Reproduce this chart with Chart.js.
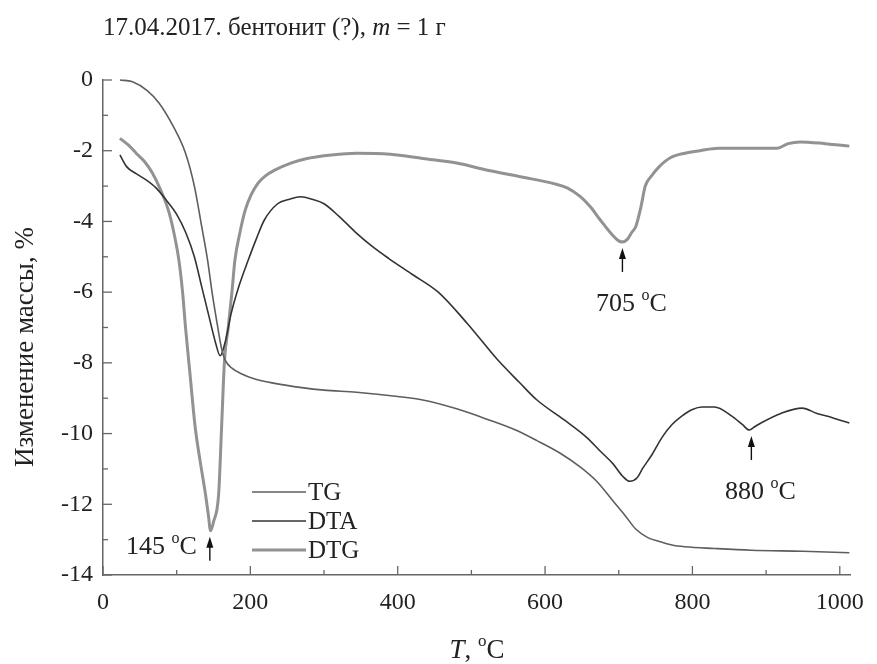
<!DOCTYPE html>
<html lang="ru">
<head>
<meta charset="utf-8">
<title>бентонит</title>
<script src="https://cdn.jsdelivr.net/npm/chart.js@4"></script>
<style>
  body { margin: 0; background: #fff; }
  #wrap { width: 877px; height: 664px; }
</style>
</head>
<body>
<div id="wrap"><canvas id="tgChart" width="877" height="664"></canvas></div>
<script>
// данные (T, °C -> значение)
const tgT    = [23, 40, 60, 76, 95, 112, 124, 134, 142, 148, 155, 161, 166, 175, 187, 205, 233, 270, 300, 344, 400, 434, 480, 522, 560, 589, 620, 648, 670, 692, 708, 723, 740, 755, 772, 790, 830, 880, 950, 1013];
const tgMass = [0.0, -0.05, -0.3, -0.65, -1.3, -2.07, -3.0, -4.15, -5.1, -6.0, -6.9, -7.6, -7.93, -8.15, -8.3, -8.45, -8.58, -8.7, -8.77, -8.83, -8.95, -9.05, -9.3, -9.6, -9.9, -10.2, -10.55, -10.95, -11.35, -11.9, -12.3, -12.7, -12.95, -13.05, -13.15, -13.2, -13.25, -13.3, -13.33, -13.37];

const dtaT   = [23, 32, 45, 59, 72, 86, 100, 112, 124, 134, 144, 153, 159, 166, 174, 185, 197, 208, 219, 237, 252, 268, 285, 300, 320, 344, 365, 388, 420, 455, 495, 535, 565, 589, 625, 656, 675, 692, 705, 715, 725, 732, 745, 759, 772, 786, 800, 813, 830, 853, 868, 877, 885, 893, 920, 949, 969, 990, 1013];
const dtaVal = [-2.12, -2.45, -2.65, -2.83, -3.05, -3.4, -3.8, -4.3, -5.0, -5.85, -6.7, -7.45, -7.8, -7.4, -6.6, -5.8, -5.1, -4.5, -3.96, -3.5, -3.38, -3.3, -3.38, -3.5, -3.85, -4.33, -4.7, -5.05, -5.5, -6.0, -6.9, -7.9, -8.55, -9.05, -9.6, -10.1, -10.5, -10.85, -11.2, -11.35, -11.25, -11.0, -10.6, -10.1, -9.75, -9.5, -9.32, -9.25, -9.25, -9.5, -9.75, -9.9, -9.8, -9.7, -9.43, -9.28, -9.43, -9.55, -9.7];

const dtgT   = [23, 35, 45, 56, 67, 78, 90, 97, 103, 108, 112, 118, 125, 132, 139, 143, 146, 150, 157, 161, 165, 170, 175, 179, 186, 193, 201, 210, 220, 233, 255, 277, 310, 344, 390, 434, 480, 522, 570, 612, 630, 648, 662, 675, 690, 700, 705, 712, 718, 723, 730, 736, 745, 755, 770, 790, 810, 835, 870, 915, 930, 946, 980, 1013];
const dtgVal = [-1.65, -1.85, -2.07, -2.3, -2.63, -3.1, -3.77, -4.4, -5.1, -6.0, -7.0, -8.3, -9.8, -10.8, -11.7, -12.3, -12.75, -12.5, -11.7, -9.8, -7.9, -7.0, -6.0, -5.1, -4.3, -3.68, -3.25, -2.93, -2.72, -2.55, -2.35, -2.22, -2.12, -2.07, -2.1, -2.22, -2.35, -2.55, -2.75, -2.93, -3.05, -3.3, -3.6, -3.96, -4.35, -4.55, -4.58, -4.5, -4.3, -4.15, -3.6, -3.0, -2.7, -2.45, -2.2, -2.07, -2.0, -1.93, -1.93, -1.93, -1.8, -1.75, -1.8, -1.87];

// пики, отмеченные стрелками
const peakT   = [145, 705, 880];
const peakVal = [-12.75, -4.58, -9.9];

const seriesNames = ['TG', 'DTA', 'DTG'];
const seriesColors = ['#5e5e5e', '#333333', '#929292'];
const seriesWidths = [1.6, 1.6, 3];

const SERIF = '"Liberation Serif", "DejaVu Serif", serif';

function toPoints(xs, ys) {
    return xs.map((x, i) => ({ x: x, y: ys[i] }));
}

// текст вида "145 °C" с надстрочным "o"
function drawDegText(ctx, num, x, y, align) {
    ctx.font = '26px ' + SERIF;
    const w1 = ctx.measureText(num + ' ').width;
    ctx.font = '16px ' + SERIF;
    const wo = ctx.measureText('o').width;
    ctx.font = '26px ' + SERIF;
    const wc = ctx.measureText('C').width;
    let sx = x;
    if (align === 'right') sx = x - (w1 + wo + wc);
    if (align === 'center') sx = x - (w1 + wo + wc) / 2;
    ctx.textAlign = 'left';
    ctx.textBaseline = 'alphabetic';
    ctx.fillText(num + ' ', sx, y);
    ctx.font = '16px ' + SERIF;
    ctx.fillText('o', sx + w1, y - 11);
    ctx.font = '26px ' + SERIF;
    ctx.fillText('C', sx + w1 + wo, y);
}

function drawArrow(ctx, x, yTop, yBottom) {
    ctx.strokeStyle = '#111';
    ctx.fillStyle = '#111';
    ctx.lineWidth = 1.4;
    ctx.beginPath();
    ctx.moveTo(x, yBottom);
    ctx.lineTo(x, yTop + 6);
    ctx.stroke();
    ctx.beginPath();
    ctx.moveTo(x, yTop);
    ctx.lineTo(x - 3.5, yTop + 11);
    ctx.lineTo(x + 3.5, yTop + 11);
    ctx.closePath();
    ctx.fill();
}

const decorPlugin = {
    id: 'decor',
    afterDraw(chart) {
        const ctx = chart.ctx;
        const xs = chart.scales.x;
        const ys = chart.scales.y;
        const area = chart.chartArea;
        ctx.save();

        // засечки внутрь (большие и малые)
        ctx.strokeStyle = '#666';
        ctx.lineWidth = 1.3;
        xs.ticks.forEach(t => {
            const px = xs.getPixelForValue(t.value);
            const len = t.value % 200 === 0 ? 9 : 5;
            ctx.beginPath();
            ctx.moveTo(px, area.bottom);
            ctx.lineTo(px, area.bottom - len);
            ctx.stroke();
        });
        ys.ticks.forEach(t => {
            const py = ys.getPixelForValue(t.value);
            const len = t.value % 2 === 0 ? 9 : 5;
            ctx.beginPath();
            ctx.moveTo(area.left, py);
            ctx.lineTo(area.left + len, py);
            ctx.stroke();
        });

        ctx.fillStyle = '#222';

        // заголовок
        ctx.textBaseline = 'alphabetic';
        ctx.textAlign = 'left';
        let tx = area.left;
        const ty = 35;
        ctx.font = '25px ' + SERIF;
        const p1 = '17.04.2017. бентонит (?), ';
        ctx.fillText(p1, tx, ty);
        tx += ctx.measureText(p1).width;
        ctx.font = 'italic 25px ' + SERIF;
        ctx.fillText('m', tx, ty);
        tx += ctx.measureText('m').width;
        ctx.font = '25px ' + SERIF;
        ctx.fillText(' = 1 г', tx, ty);

        // подпись оси Y
        ctx.save();
        ctx.translate(26, 347);
        ctx.rotate(-Math.PI / 2);
        ctx.textAlign = 'center';
        ctx.textBaseline = 'middle';
        ctx.font = '27px ' + SERIF;
        ctx.fillText('Изменение массы, %', 0, 0);
        ctx.restore();

        // подпись оси X: "T, °C"
        ctx.font = 'italic 27px ' + SERIF;
        const wT = ctx.measureText('T').width;
        ctx.font = '27px ' + SERIF;
        const wComma = ctx.measureText(', ').width;
        ctx.font = '17px ' + SERIF;
        const wO = ctx.measureText('o').width;
        ctx.font = '27px ' + SERIF;
        const wC = ctx.measureText('C').width;
        let ax = (area.left + area.right) / 2 - (wT + wComma + wO + wC) / 2;
        const ay = 658;
        ctx.textAlign = 'left';
        ctx.font = 'italic 27px ' + SERIF;
        ctx.fillText('T', ax, ay);
        ax += wT;
        ctx.font = '27px ' + SERIF;
        ctx.fillText(', ', ax, ay);
        ax += wComma;
        ctx.font = '17px ' + SERIF;
        ctx.fillText('o', ax, ay - 12);
        ax += wO;
        ctx.font = '27px ' + SERIF;
        ctx.fillText('C', ax, ay);

        // стрелки и температуры пиков
        peakT.forEach((t, i) => {
            const px = xs.getPixelForValue(t);
            const py = ys.getPixelForValue(peakVal[i]);
            const top = py + 6;
            const bottom = py + 30;
            drawArrow(ctx, px, top, bottom);
            ctx.fillStyle = '#222';
            if (i === 0) {
                drawDegText(ctx, String(t), px - 13, py + 23, 'right');
            } else {
                drawDegText(ctx, String(t), px + 9, bottom + 39, 'center');
            }
        });

        // легенда
        const lx = 252, ly = 492, step = 29;
        seriesNames.forEach((name, i) => {
            const y = ly + i * step;
            ctx.strokeStyle = seriesColors[i];
            ctx.lineWidth = seriesWidths[i];
            ctx.beginPath();
            ctx.moveTo(lx, y);
            ctx.lineTo(lx + 54, y);
            ctx.stroke();
            ctx.fillStyle = '#222';
            ctx.font = '25px ' + SERIF;
            ctx.textAlign = 'left';
            ctx.textBaseline = 'middle';
            ctx.fillText(name, lx + 56, y + 1);
        });

        ctx.restore();
    }
};

function renderThermoChart() {
    const ctx = document.getElementById('tgChart').getContext('2d');
    const allSeries = [toPoints(tgT, tgMass), toPoints(dtaT, dtaVal), toPoints(dtgT, dtgVal)];
    new Chart(ctx, {
        type: 'line',
        data: {
            datasets: allSeries.map((pts, i) => ({
                label: seriesNames[i],
                data: pts,
                borderColor: seriesColors[i],
                borderWidth: seriesWidths[i],
                pointRadius: 0,
                fill: false,
                cubicInterpolationMode: 'monotone',
                clip: false
            }))
        },
        options: {
            responsive: false,
            animation: false,
            layout: { padding: { top: 80, right: 15, left: 0, bottom: 0 } },
            plugins: {
                legend: { display: false },
                tooltip: { enabled: false },
                title: { display: false }
            },
            scales: {
                x: {
                    type: 'linear',
                    min: 0,
                    max: 1015,
                    grid: { drawOnChartArea: false, drawTicks: false },
                    border: { display: true, color: '#666', width: 1.5 },
                    ticks: {
                        stepSize: 100,
                        includeBounds: false,
                        autoSkip: false,
                        maxRotation: 0,
                        padding: 13,
                        color: '#222',
                        font: { family: SERIF, size: 24 },
                        callback: v => (v % 200 === 0 ? String(v) : '')
                    },
                    afterFit: scale => { scale.height = 89; }
                },
                y: {
                    type: 'linear',
                    min: -14,
                    max: 0,
                    grid: { drawOnChartArea: false, drawTicks: false },
                    border: { display: true, color: '#666', width: 1.5 },
                    ticks: {
                        stepSize: 1,
                        autoSkip: false,
                        padding: 10,
                        color: '#222',
                        font: { family: SERIF, size: 24 },
                        callback: v => (v % 2 === 0 ? String(v) : '')
                    },
                    afterFit: scale => { scale.width = 103; }
                }
            }
        },
        plugins: [decorPlugin]
    });
}

renderThermoChart();
</script>
</body>
</html>
